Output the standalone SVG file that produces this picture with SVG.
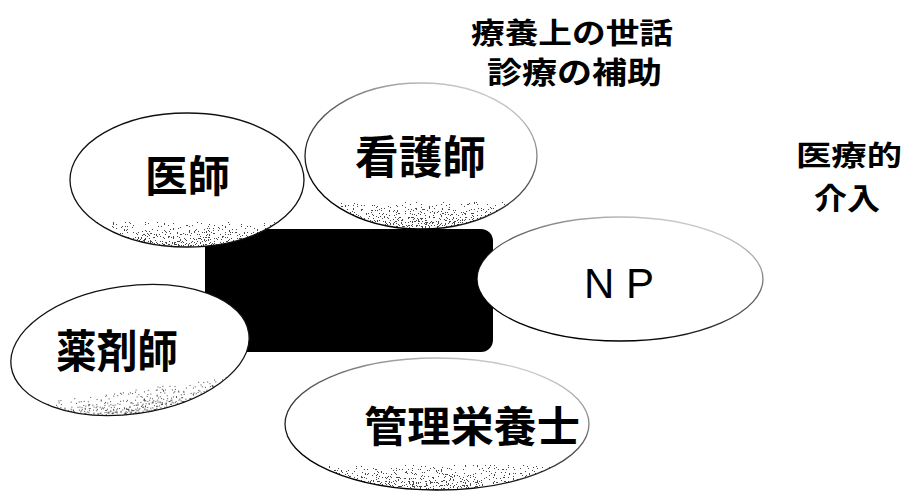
<svg xmlns="http://www.w3.org/2000/svg" width="904" height="494" viewBox="0 0 904 494">
<style>
.jp{font-family:"Noto Sans CJK JP","Noto Sans CJK SC",sans-serif;font-weight:700;fill:#000}
.lat{font-family:"Liberation Sans",Arial,sans-serif;fill:#000}
.oval{fill:#fff}
.edge{fill:none;stroke:#111;stroke-width:1.3}
.shade{fill:url(#shadeGrad);filter:url(#grain)}
</style>
<defs>
<linearGradient id="shadeGrad" x1="0" y1="0" x2="0" y2="1">
<stop offset="0" stop-color="#000" stop-opacity="0"/>
<stop offset="0.5" stop-color="#000" stop-opacity="0"/>
<stop offset="0.8" stop-color="#000" stop-opacity="0.4"/>
<stop offset="1" stop-color="#000" stop-opacity="0.75"/>
</linearGradient>
<linearGradient id="fadeTR" x1="0.85" y1="0" x2="0.35" y2="0.9">
<stop offset="0" stop-color="#000" stop-opacity="0.1"/>
<stop offset="0.45" stop-color="#000" stop-opacity="0.6"/>
<stop offset="1" stop-color="#000" stop-opacity="1"/>
</linearGradient>
<filter id="grain" x="-5%" y="-5%" width="110%" height="110%" color-interpolation-filters="sRGB">
<feTurbulence type="fractalNoise" baseFrequency="0.75" numOctaves="2" seed="7" result="t"/>
<feColorMatrix in="t" type="matrix" values="0 0 0 0 0  0 0 0 0 0  0 0 0 0 0  2.4 0 0 0 -0.7" result="n"/>
<feComposite in="SourceAlpha" in2="n" operator="arithmetic" k1="0" k2="1" k3="1" k4="-0.92" result="s"/>
<feComponentTransfer in="s" result="b"><feFuncA type="discrete" tableValues="0 1"/></feComponentTransfer>
<feFlood flood-color="#484848" result="c"/>
<feComposite in="c" in2="b" operator="in"/>
</filter>
</defs>

<g id="core">
<rect x="205" y="229" width="288" height="123" rx="12" fill="#000"/>
</g>

<g id="connectors"></g>

<g id="node-doctor">
<ellipse class="oval" cx="187" cy="180" rx="117" ry="67"/>
<ellipse class="shade" cx="187" cy="180" rx="117" ry="67"/>
<ellipse class="edge" cx="187" cy="180" rx="117" ry="67"/>
<text class="jp" x="145" y="192" font-size="43" textLength="85" lengthAdjust="spacingAndGlyphs">医師</text>
</g>

<g id="node-nurse">
<ellipse class="oval" cx="421" cy="156" rx="116" ry="73"/>
<ellipse class="shade" cx="421" cy="156" rx="116" ry="73"/>
<ellipse cx="421" cy="156" rx="116" ry="73" fill="none" stroke="url(#fadeTR)" stroke-width="1.3"/>
<text class="jp" x="355" y="174" font-size="45" textLength="131" lengthAdjust="spacingAndGlyphs">看護師</text>
</g>

<g id="node-pharmacist">
<g transform="rotate(-8 130 350)">
<ellipse class="oval" cx="130" cy="350" rx="120" ry="64"/>
<ellipse class="shade" cx="130" cy="350" rx="120" ry="64"/>
<ellipse class="edge" cx="130" cy="350" rx="120" ry="64"/>
</g>
<text class="jp" x="56" y="368" font-size="45" textLength="122" lengthAdjust="spacingAndGlyphs">薬剤師</text>
</g>

<g id="node-dietitian">
<ellipse class="oval" cx="437" cy="424" rx="152" ry="66"/>
<ellipse class="shade" cx="437" cy="424" rx="152" ry="66"/>
<ellipse cx="437" cy="424" rx="152" ry="66" fill="none" stroke="url(#fadeTR)" stroke-width="1.3"/>
<text class="jp" x="364" y="442" font-size="42" textLength="216" lengthAdjust="spacingAndGlyphs">管理栄養士</text>
</g>

<g id="node-np">
<ellipse class="oval" cx="620" cy="279" rx="143" ry="62"/>
<ellipse cx="620" cy="279" rx="143" ry="62" fill="none" stroke="url(#fadeTR)" stroke-width="1.3"/>
<text class="lat" x="619" y="298" font-size="42" text-anchor="middle">N P</text>
</g>

<g id="label-care">
<text class="jp" x="471" y="44" font-size="29" textLength="202" lengthAdjust="spacingAndGlyphs">療養上の世話</text>
<text class="jp" x="487" y="83" font-size="30" textLength="175" lengthAdjust="spacingAndGlyphs">診療の補助</text>
</g>

<g id="label-medical">
<text class="jp" x="796" y="166" font-size="28" textLength="106" lengthAdjust="spacingAndGlyphs">医療的</text>
<text class="jp" x="814" y="209" font-size="30" textLength="66" lengthAdjust="spacingAndGlyphs">介入</text>
</g>
</svg>
